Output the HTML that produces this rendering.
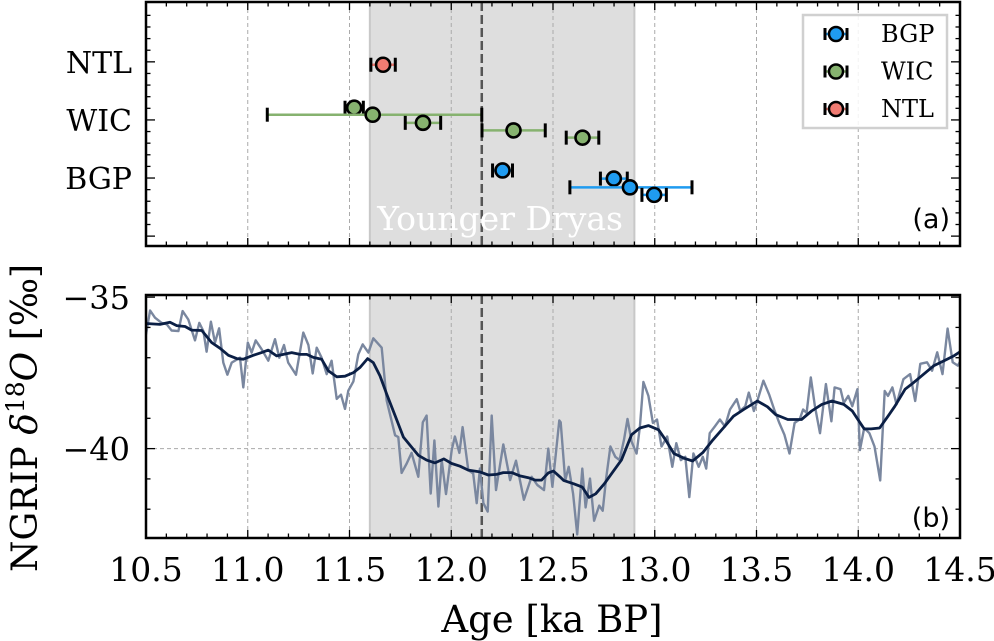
<!DOCTYPE html>
<html><head><meta charset="utf-8"><style>
html,body{margin:0;padding:0;background:#fff;}
svg{display:block;font-family:"DejaVu Serif","Liberation Serif",serif;}
</style></head><body>
<svg id="chart" width="994" height="641" viewBox="0 0 994 641" xmlns="http://www.w3.org/2000/svg"></svg>
<script>
// ---- Panel (a) data ----
const categories = ["BGP","WIC","NTL"];
const catColors = ["#1f9bf0","#86b26f","#f07b72"];
const bgpAge = [12.252, 12.799, 12.878, 12.997];
const bgpPos = [0.13, -0.01, -0.16, -0.29];
const bgpErrLo = [0.049, 0.066, 0.295, 0.06];
const bgpErrHi = [0.049, 0.066, 0.305, 0.06];
const wicAge = [11.523, 11.614, 11.861, 12.306, 12.645];
const wicPos = [1.21, 1.09, 0.95, 0.82, 0.695];
const wicErrLo = [0.045, 0.518, 0.087, 0.155, 0.08];
const wicErrHi = [0.045, 0.536, 0.087, 0.156, 0.08];
const ntlAge = [11.665];
const ntlPos = [1.95];
const ntlErrLo = [0.06];
const ntlErrHi = [0.06];
const ydStart = 11.6, ydEnd = 12.9, boundary = 12.15;
const xTicks = [10.5, 11.0, 11.5, 12.0, 12.5, 13.0, 13.5, 14.0, 14.5];
const xTickLabels = ["10.5","11.0","11.5","12.0","12.5","13.0","13.5","14.0","14.5"];
const yTicksB = [-35, -40];
const yTickLabelsB = ["\u221235","\u221240"];
// ---- Panel (b) data ----
const rawAge = [10.500,10.520,10.544,10.577,10.602,10.626,10.659,10.680,10.708,10.741,10.762,10.782,10.798,10.819,10.839,10.859,10.880,10.900,10.921,10.962,10.978,11.000,11.019,11.039,11.068,11.101,11.134,11.155,11.178,11.199,11.237,11.273,11.298,11.319,11.339,11.363,11.388,11.412,11.437,11.458,11.478,11.494,11.519,11.543,11.565,11.593,11.617,11.658,11.683,11.724,11.740,11.756,11.781,11.805,11.838,11.860,11.879,11.899,11.917,11.937,11.953,11.974,12.002,12.018,12.040,12.056,12.084,12.108,12.125,12.141,12.158,12.179,12.199,12.220,12.256,12.289,12.318,12.357,12.395,12.423,12.456,12.477,12.497,12.531,12.538,12.560,12.577,12.599,12.619,12.644,12.660,12.682,12.702,12.727,12.744,12.761,12.782,12.806,12.827,12.849,12.866,12.886,12.911,12.927,12.944,12.969,12.991,13.011,13.033,13.061,13.086,13.106,13.128,13.150,13.170,13.190,13.216,13.236,13.253,13.270,13.295,13.320,13.345,13.370,13.403,13.420,13.445,13.462,13.487,13.504,13.534,13.562,13.587,13.612,13.637,13.662,13.687,13.712,13.729,13.746,13.767,13.787,13.812,13.841,13.868,13.884,13.913,13.929,13.951,13.971,13.996,14.008,14.029,14.055,14.080,14.108,14.130,14.146,14.168,14.188,14.222,14.255,14.280,14.305,14.338,14.363,14.388,14.414,14.439,14.464,14.489,14.514];
const rawD18O = [-36.23,-35.44,-35.68,-35.85,-35.90,-36.10,-36.12,-35.46,-35.74,-36.43,-35.85,-36.12,-36.80,-35.81,-36.50,-36.03,-37.16,-37.56,-37.16,-37.00,-37.98,-36.50,-36.83,-36.43,-36.72,-37.10,-36.39,-37.00,-36.58,-37.16,-37.56,-36.17,-36.58,-37.52,-36.67,-37.00,-37.54,-37.10,-38.36,-38.22,-38.69,-38.09,-37.78,-36.89,-36.56,-36.83,-36.36,-36.67,-38.42,-39.56,-39.62,-40.80,-40.49,-40.14,-40.93,-39.13,-38.91,-41.48,-39.73,-41.91,-40.38,-41.50,-40.05,-39.60,-40.14,-39.29,-40.71,-40.82,-41.80,-40.66,-41.80,-42.08,-38.91,-41.37,-39.86,-41.04,-40.40,-41.69,-40.93,-41.20,-41.37,-40.00,-41.26,-39.07,-39.13,-41.05,-40.60,-41.49,-42.83,-40.66,-41.94,-40.99,-42.38,-41.88,-42.05,-40.99,-39.93,-40.27,-40.38,-39.71,-39.02,-39.77,-40.16,-39.27,-37.80,-38.26,-39.15,-39.04,-39.93,-39.60,-40.60,-39.82,-40.38,-40.27,-41.60,-40.16,-40.60,-40.27,-40.66,-39.49,-39.27,-39.04,-39.27,-38.71,-38.37,-38.76,-38.60,-38.15,-38.76,-38.43,-37.76,-38.21,-38.71,-39.15,-39.54,-40.16,-39.15,-39.04,-38.71,-38.82,-37.65,-38.60,-39.49,-37.87,-39.10,-37.98,-38.04,-38.49,-38.26,-38.60,-38.04,-40.05,-39.32,-39.49,-39.93,-41.05,-38.10,-38.26,-37.98,-38.54,-37.71,-37.54,-38.43,-37.20,-37.15,-37.43,-36.82,-37.54,-36.04,-37.15,-37.26,-36.98];
const smoothAge = [10.500,10.569,10.618,10.651,10.692,10.724,10.774,10.823,10.864,10.905,10.946,10.978,11.027,11.068,11.101,11.142,11.175,11.216,11.257,11.290,11.322,11.363,11.396,11.437,11.478,11.519,11.552,11.589,11.617,11.650,11.683,11.724,11.765,11.805,11.838,11.879,11.920,11.964,12.002,12.043,12.084,12.141,12.182,12.223,12.256,12.297,12.338,12.379,12.412,12.444,12.477,12.502,12.534,12.552,12.602,12.644,12.677,12.710,12.752,12.794,12.836,12.886,12.927,12.969,13.019,13.053,13.094,13.145,13.186,13.236,13.286,13.337,13.387,13.437,13.504,13.554,13.595,13.654,13.721,13.771,13.821,13.871,13.929,13.971,14.004,14.029,14.063,14.105,14.146,14.180,14.230,14.272,14.322,14.372,14.422,14.472,14.549];
const smoothD18O = [-35.87,-35.90,-35.83,-35.94,-35.97,-36.09,-36.10,-36.50,-36.69,-36.92,-37.03,-37.05,-36.92,-36.83,-36.75,-36.94,-36.89,-36.83,-36.89,-36.89,-36.99,-37.05,-37.43,-37.63,-37.61,-37.49,-37.32,-37.03,-37.16,-37.60,-38.20,-38.91,-39.62,-39.95,-40.22,-40.38,-40.47,-40.34,-40.49,-40.58,-40.71,-40.77,-40.87,-40.85,-40.79,-40.79,-40.90,-40.96,-41.04,-41.04,-40.80,-40.74,-40.93,-41.05,-41.16,-41.27,-41.61,-41.49,-41.16,-40.77,-40.38,-39.54,-39.32,-39.24,-39.38,-39.71,-40.16,-40.32,-40.41,-40.13,-39.71,-39.32,-38.93,-38.71,-38.43,-38.62,-38.88,-39.04,-39.04,-38.76,-38.54,-38.43,-38.54,-38.76,-39.10,-39.35,-39.35,-39.32,-38.93,-38.60,-38.04,-37.82,-37.54,-37.26,-37.10,-36.93,-36.59];

const NS = "http://www.w3.org/2000/svg";
const svg = document.getElementById("chart");
function mk(tag, attrs, parent){const e=document.createElementNS(NS,tag);for(const k in attrs)e.setAttribute(k,attrs[k]);(parent||svg).appendChild(e);return e;}

const L=146, R=960;
const A={top:2,bottom:246,min:-1.17,max:3.03};
const B={top:295,bottom:538,min:-42.95,max:-34.93};
const xS = v => L + (v-10.5)/(14.5-10.5)*(R-L);
const yA = v => A.bottom - (v-A.min)/(A.max-A.min)*(A.bottom-A.top);
const yB = v => B.bottom - (v-B.min)/(B.max-B.min)*(B.bottom-B.top);

const defs = mk("defs",{});
const cpA = mk("clipPath",{id:"cpA"},defs); mk("rect",{x:L,y:A.top,width:R-L,height:A.bottom-A.top},cpA);
const cpB = mk("clipPath",{id:"cpB"},defs); mk("rect",{x:L,y:B.top,width:R-L,height:B.bottom-B.top},cpB);

function panelBase(P, name){
  const g = mk("g",{"clip-path":"url(#cp"+name+")"});
  
  
  const sh = mk("rect",{x:xS(ydStart),y:P.top,width:xS(ydEnd)-xS(ydStart),height:P.bottom-P.top,fill:"#dedede",stroke:"#c8c8c8","stroke-width":2},g);
  
  
  xTicks.forEach(t=>{
    const gl = mk("line",{x1:xS(t),x2:xS(t),y1:P.top,y2:P.bottom,stroke:"#aaa","stroke-width":1,"stroke-dasharray":"4,3"},g);
    
    
  });
  const bl = mk("line",{x1:xS(boundary),x2:xS(boundary),y1:P.top,y2:P.bottom,stroke:"#555","stroke-width":2.5,"stroke-dasharray":"9,4"},g);
  
  
  return g;
}
function frame(P,name){
  const tg = mk("g",{stroke:"#000","stroke-width":1.3});
  
  
  for(let i=0;i<=40;i++){const v=10.5+i*0.1, x=xS(v), len=(i%5===0)?8:4.5;
    mk("line",{x1:x,x2:x,y1:P.bottom,y2:P.bottom-len},tg);
    mk("line",{x1:x,x2:x,y1:P.top,y2:P.top+len},tg);}
  const fr = mk("rect",{x:L,y:P.top,width:R-L,height:P.bottom-P.top,fill:"none",stroke:"#000","stroke-width":2.5});
  
  
  return tg;
}

// ---- Panel A ----
const gA = panelBase(A,"A");
const yd = mk("text",{x:(xS(ydStart)+xS(ydEnd))/2-2,y:230,"text-anchor":"middle","font-size":33,fill:"#fff"},gA);
yd.textContent="Younger Dryas";


function series(ages,pos,lo,hi,base,color,name){
  const g = mk("g",{},gA);
  
  
  ages.forEach((a,i)=>{
    const y=yA(base+pos[i]);
    const eb = mk("g",{},g);
    
    
    mk("line",{x1:xS(a-lo[i]),x2:xS(a+hi[i]),y1:y,y2:y,stroke:color,"stroke-width":2.5},eb);
    mk("line",{x1:xS(a-lo[i]),x2:xS(a-lo[i]),y1:y-7,y2:y+7,stroke:"#000","stroke-width":3},eb);
    mk("line",{x1:xS(a+hi[i]),x2:xS(a+hi[i]),y1:y-7,y2:y+7,stroke:"#000","stroke-width":3},eb);
    const c = mk("circle",{cx:xS(a),cy:y,r:7,fill:color,stroke:"#000","stroke-width":2.6},g);
    
    
  });
}
series(wicAge,wicPos,wicErrLo,wicErrHi,0,catColors[1],"wic");
series(bgpAge,bgpPos,bgpErrLo,bgpErrHi,0,catColors[0],"bgp");
series(ntlAge,ntlPos,ntlErrLo,ntlErrHi,0,catColors[2],"ntl");
const tgA = frame(A,"a");
for(let i=-5;i<=14;i++){const v=i*0.2; if(v<A.min||v>A.max) continue; const y=yA(v); const len=(i%5===0)?9:4.5;
  mk("line",{x1:L,x2:L+len,y1:y,y2:y},tgA); mk("line",{x1:R,x2:R-len,y1:y,y2:y},tgA);}
categories.forEach((c,i)=>{
  const t = mk("text",{x:132,y:yA(i)+11,"text-anchor":"end","font-size":30,fill:"#000"});
  t.textContent=c;
  
  
});
const la = mk("text",{x:950,y:228,"text-anchor":"end","font-size":27,"font-family":"DejaVu Sans, sans-serif"});
la.textContent="(a)";


// legend
const lg = mk("g",{});


mk("rect",{x:803,y:15,width:144,height:113,fill:"#fff","fill-opacity":0.85,stroke:"#d0d0d0","stroke-width":2.5},lg);
[0,1,2].forEach(i=>{
  const y=34+i*37.5, e=mk("g",{},lg);
  
  
  mk("line",{x1:824,x2:848,y1:y,y2:y,stroke:catColors[i],"stroke-width":2.5},e);
  mk("line",{x1:825,x2:825,y1:y-6,y2:y+6,stroke:"#000","stroke-width":3},e);
  mk("line",{x1:847,x2:847,y1:y-6,y2:y+6,stroke:"#000","stroke-width":3},e);
  mk("circle",{cx:836,cy:y,r:7,fill:catColors[i],stroke:"#000","stroke-width":2.5},e);
  const t=mk("text",{x:881,y:y+8,"font-size":24},e); t.textContent=categories[i];
});

// ---- Panel B ----
const gB = panelBase(B,"B");
const hg = mk("line",{x1:L,x2:R,y1:yB(-40),y2:yB(-40),stroke:"#aaa","stroke-width":1,"stroke-dasharray":"4,3"},gB);


const rawP = mk("polyline",{points:rawAge.map((a,i)=>xS(a).toFixed(1)+","+yB(rawD18O[i]).toFixed(1)).join(" "),fill:"none",stroke:"#7a879f","stroke-width":2.4,"stroke-linejoin":"round"},gB);


const smP = mk("polyline",{points:smoothAge.map((a,i)=>xS(a).toFixed(1)+","+yB(smoothD18O[i]).toFixed(1)).join(" "),fill:"none",stroke:"#0b1f45","stroke-width":2.8,"stroke-linejoin":"round"},gB);


const tgB = frame(B,"b");
for(let v=-42;v<=-35;v++){const y=yB(v); const len=(v%5===0)?9:4.5;
  mk("line",{x1:L,x2:L+len,y1:y,y2:y},tgB); mk("line",{x1:R,x2:R-len,y1:y,y2:y},tgB);}
yTicksB.forEach((v,i)=>{
  const t=mk("text",{x:130,y:yB(v)+12,"text-anchor":"end","font-size":32});
  t.textContent=yTickLabelsB[i];
  
  
});
xTicks.forEach((v,i)=>{
  const t=mk("text",{x:xS(v),y:581,"text-anchor":"middle","font-size":33});
  t.textContent=xTickLabels[i];
  
  
});
const lb = mk("text",{x:950,y:527,"text-anchor":"end","font-size":27,"font-family":"DejaVu Sans, sans-serif"});
lb.textContent="(b)";


const xl = mk("text",{x:552,y:632,"text-anchor":"middle","font-size":37});
xl.textContent="Age [ka BP]";


const yl = mk("text",{x:0,y:0,"text-anchor":"middle","font-size":36,transform:"translate(37,418) rotate(-90)"});
yl.innerHTML='NGRIP <tspan font-style="italic">δ</tspan><tspan dy="-13" font-size="25">18</tspan><tspan dy="13" font-style="italic">O</tspan> [‰]';


</script>
</body></html>
